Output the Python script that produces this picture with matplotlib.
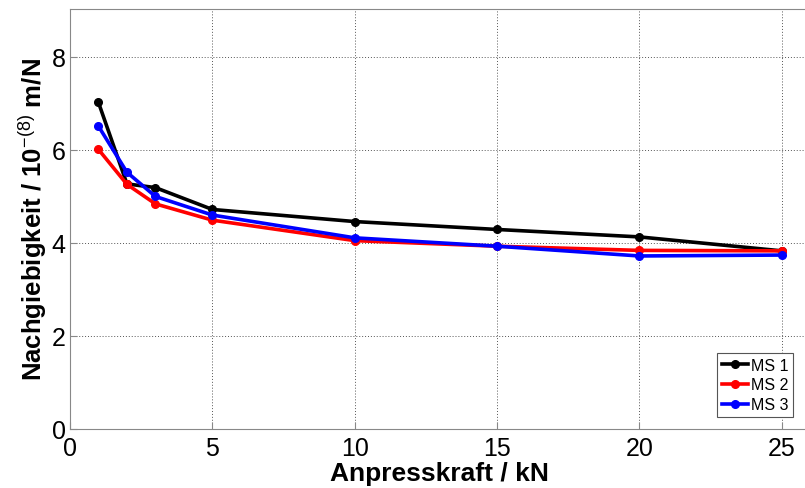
import matplotlib
matplotlib.use("Agg")
import matplotlib.pyplot as plt

plt.rcParams['font.family'] = ['Liberation Sans', 'DejaVu Sans']
plt.rcParams['mathtext.fontset'] = 'custom'
plt.rcParams['mathtext.rm'] = 'Liberation Sans'
plt.rcParams['mathtext.bf'] = 'Liberation Sans:bold'

force = [1, 2, 3, 5, 10, 15, 20, 25]
ms1 = [7.02, 5.27, 5.19, 4.72, 4.46, 4.29, 4.13, 3.83]
ms2 = [6.01, 5.26, 4.84, 4.49, 4.05, 3.93, 3.84, 3.83]
ms3 = [6.51, 5.52, 5.00, 4.60, 4.11, 3.93, 3.72, 3.74]
series = [("MS 1", ms1, "black"), ("MS 2", ms2, "red"), ("MS 3", ms3, "blue")]
xticks = [0, 5, 10, 15, 20, 25]
yticks = [0, 2, 4, 6, 8]

fig = plt.figure(figsize=(8.05, 4.89), dpi=100)
ppu = 28.47
ax = fig.add_axes([70/805, 59/489, 27*ppu/805, 420/489])

for name, vals, col in series:
    ax.plot(force, vals, color=col, lw=2.6, marker='o', ms=5.5, label=name)

ax.set_xlim(0, 27)
ax.set_ylim(0, 9.03)
ax.set_xticks(xticks)
ax.set_yticks(yticks)
ax.grid(True, linestyle=(0, (1, 2)), color='#555555', lw=0.7)
for s in ax.spines.values():
    s.set_color('#888888')
ax.spines['right'].set_visible(False)
ax.tick_params(direction='in', colors='#888888', labelcolor='black', labelsize=18, length=5)
ax.tick_params(axis='x', pad=5)
ax.tick_params(axis='y', pad=3)
ax.set_xlabel('Anpresskraft / kN', fontsize=19, fontweight='bold')
ax.xaxis.set_label_coords((439 - 70) / (27*ppu), -32/420)
ax.set_ylabel('Nachgiebigkeit / 10$^{\\mathrm{-(8)}}$ m/N', fontsize=18.5, fontweight='bold', labelpad=2)

leg = ax.legend(loc='lower right', fontsize=11.5, fancybox=False, edgecolor='#555555',
                framealpha=1, handlelength=1.6, borderpad=0.3, labelspacing=0.3,
                handletextpad=0.2, bbox_to_anchor=((793 - 70) / (27*ppu), 12 / 420), borderaxespad=0)
leg.get_frame().set_linewidth(0.8)

fig.savefig('out.png', dpi=100)
